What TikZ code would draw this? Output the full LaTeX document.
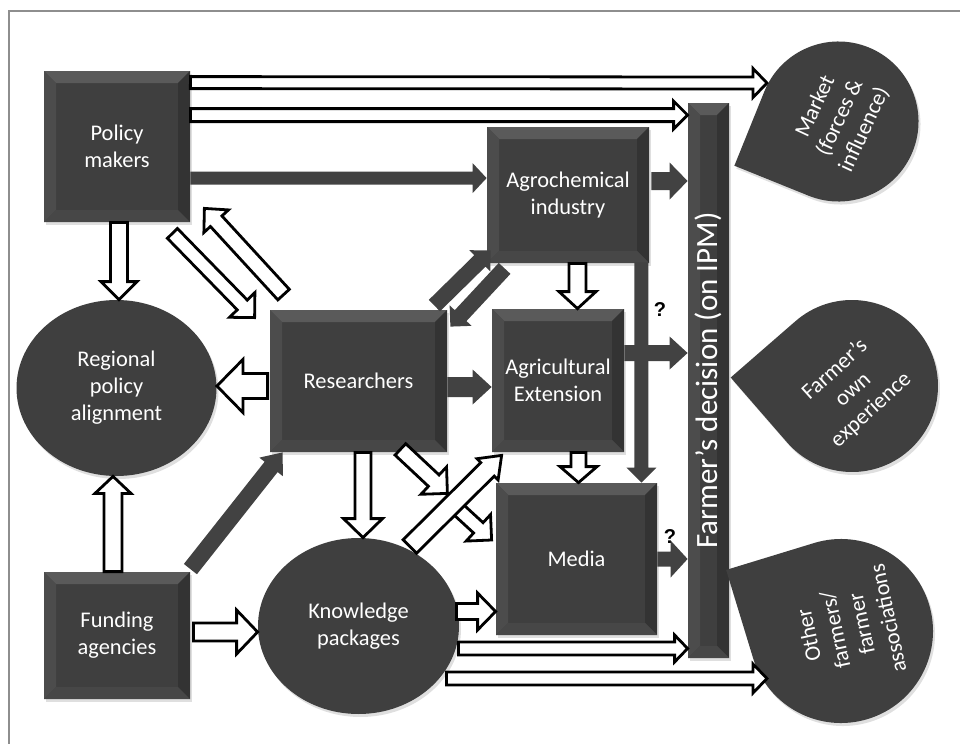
\documentclass[tikz,border=0pt]{standalone}
\usepackage{fontspec}
\setmainfont{Carlito}
\newfontfamily\qfont{Liberation Sans}
\usepackage{tikz}
\usetikzlibrary{calc, positioning, shapes.geometric, shadows}

\definecolor{face}{HTML}{3F3F3F}
\definecolor{bevtop}{HTML}{5A5A5A}
\definecolor{bevleft}{HTML}{4C4C4C}
\definecolor{bevright}{HTML}{333333}
\definecolor{bevbot}{HTML}{474747}
\definecolor{arrowgray}{HTML}{424242}
\definecolor{framegray}{HTML}{8E8E8E}

\newcommand\boxfont{\fontsize{11.2}{13.5}\selectfont}
\newcommand\dropfont{\fontsize{11.2}{13.5}\selectfont}
\newcommand\decfont{\fontsize{15.5}{18}\selectfont}

% bevelled face of the dark boxes
\newcommand\boxbevel[1]{%
  \coordinate (bb-nw) at (path picture bounding box.north west);
  \coordinate (bb-ne) at (path picture bounding box.north east);
  \coordinate (bb-sw) at (path picture bounding box.south west);
  \coordinate (bb-se) at (path picture bounding box.south east);
  \fill[bevtop] (bb-nw) -- (bb-ne) -- ([shift={(-#1,-#1)}]bb-ne) -- ([shift={(#1,-#1)}]bb-nw) -- cycle;
  \fill[bevleft] (bb-nw) -- (bb-sw) -- ([shift={(#1,#1)}]bb-sw) -- ([shift={(#1,-#1)}]bb-nw) -- cycle;
  \fill[bevright] (bb-ne) -- (bb-se) -- ([shift={(-#1,#1)}]bb-se) -- ([shift={(-#1,-#1)}]bb-ne) -- cycle;
  \fill[bevbot] (bb-sw) -- (bb-se) -- ([shift={(-#1,#1)}]bb-se) -- ([shift={(#1,#1)}]bb-sw) -- cycle;
}

\tikzset{
  ba shaft/.store in=\bashaft, ba shaft=4pt,
  ba head/.code={\def\bahead{#1}\def\balen{#1}}, ba head=9pt,
  ba len/.store in=\balen,
  ba path/.style={fill=white, draw=black},
  hollow/.style={ba path/.style={fill=white, draw=black, line width=1.4pt, line join=miter}},
  dark/.style={ba path/.style={fill=arrowgray}},
  soft shadow/.style={drop shadow={opacity=0.25, shadow xshift=1pt, shadow yshift=-1.5pt}},
}

% block arrow: [style]{from}{to}
\newcommand\blockarrow[3][]{%
  \begin{scope}[#1]
    \coordinate (ba-s) at (#2);
    \coordinate (ba-e) at (#3);
    \coordinate (ba-m) at ($(ba-e)!\balen!(ba-s)$);
    \path[ba path] ($(ba-s)!\bashaft!90:(ba-e)$) -- ($(ba-m)!\bashaft!90:(ba-e)$)
      -- ($(ba-m)!\bahead!90:(ba-e)$) -- (ba-e)
      -- ($(ba-m)!\bahead!-90:(ba-e)$) -- ($(ba-m)!\bashaft!-90:(ba-e)$)
      -- ($(ba-s)!\bashaft!-90:(ba-e)$) -- cycle;
  \end{scope}}

% teardrop: {centre}{radius}{tip angle}
\newcommand\teardrop[3]{%
  \fill[face, soft shadow] ($(#1)+({#3+45}:#2)$) arc[start angle={#3+45}, end angle={#3+315}, radius=#2]
    -- ($(#1)+(#3:{1.414*#2})$) -- cycle;}

\begin{document}
\begin{tikzpicture}[x=0.5pt, y=-0.5pt,
  box/.style={rectangle, fill=face, text=white, font=\boxfont, align=center,
    inner sep=0pt, soft shadow, path picture={\boxbevel{6pt}}},
  blob/.style={ellipse, fill=face, text=white, font=\boxfont, align=center, inner sep=0pt, soft shadow},
  droptext/.style={text=white, font=\dropfont, align=center, inner sep=0pt},
  qmark/.style={font=\qfont\bfseries\fontsize{10}{12}\selectfont, inner sep=0pt}]

  \useasboundingbox (0,0) rectangle (960,744);
  \draw[framegray, line width=0.8pt] (960,11) -- (9,11) -- (9,744);

  \node[box, minimum width=73pt, minimum height=75.5pt] (pm) at (117,146.5) {Policy\\makers};
  \node[blob, minimum width=100pt, minimum height=88pt] (rpa) at (116.5,388) {Regional\\policy\\alignment};
  \node[box, minimum width=88.5pt, minimum height=71pt] (res) at (358.5,381) {Researchers};
  \node[box, minimum width=73pt, minimum height=63.5pt] (fund) at (117,635.5) {Funding\\agencies};
  \node[blob, minimum width=100.5pt, minimum height=88pt] (kp) at (358.5,626) {Knowledge\\packages};
  \node[box, minimum width=81pt, minimum height=68pt] (agro) at (568,195) {Agrochemical\\industry};
  \node[box, minimum width=66pt, minimum height=71.5pt] (ext) at (558,380.5) {Agricultural\\Extension};
  \node[box, minimum width=80.5pt, minimum height=76pt] (media) at (576.5,559) {Media};

  \node[box, minimum width=20.5pt, minimum height=277.5pt] (dec) at (708.5,380.5) {};
  \node[rotate=90, text=white, font=\decfont, inner sep=0pt] (dectext) at (dec.center) {Farmer’s decision (on IPM)};

  \coordinate (mkt-c) at (838.5,121.5);
  \coordinate (own-c) at (852,386);
  \coordinate (oth-c) at (841,631);
  \teardrop{mkt-c}{80}{157}
  \teardrop{own-c}{86}{184}
  \teardrop{oth-c}{92}{208}
  \node[droptext, rotate=65] (mkt) at (840,118) {Market\\(forces \&\\influence)};
  \node[droptext, rotate=42] (own) at (853,390) {Farmer’s\\own\\experience};
  \node[droptext, rotate=102] (oth) at (848,627) {Other\\farmers/\\farmer\\associations};

  \coordinate (mkt-in) at (767,83);
  \coordinate (oth-in) at (767,678.5);

  \blockarrow[hollow, ba shaft=3pt, ba head=7.25pt, ba len=7pt]{$(pm.north east)+(0,12)$}{mkt-in}
  \blockarrow[hollow, ba shaft=3.25pt, ba head=7pt]{$(pm.north east)+(0,44.5)$}{dec.west |- ba-s}
  \blockarrow[dark, ba shaft=3.25pt, ba head=7.5pt, ba len=7pt]{$(pm.north east)+(0,107.5)$}{agro.west |- ba-s}
  \blockarrow[dark, ba shaft=4.5pt, ba head=9.25pt, ba len=9pt]{$(agro.east)+(2,-14)$}{dec.west |- ba-s}
  \blockarrow[hollow, ba shaft=4.25pt, ba head=9pt]{$(pm.south)+(2,0)$}{rpa.north -| ba-s}
  \blockarrow[hollow, ba shaft=3.5pt, ba head=8.85pt]{$(pm.south east)+(-18,11)$}{$(res.north west)+(-15,8)$}
  \blockarrow[hollow, ba shaft=3.9pt, ba head=8.35pt, ba len=8.7pt]{$(res.north west)+(14,-15)$}{$(pm.south east)+(14,-14)$}
  \blockarrow[dark, ba shaft=4pt, ba head=7.5pt]{$(res.north east)+(-13,-4)$}{$(agro.south west)+(4,-13)$}
  \blockarrow[dark, ba shaft=4pt, ba head=7.5pt]{$(agro.south west)+(18,5)$}{$(res.north east)+(3,17)$}
  \blockarrow[dark, ba shaft=5pt, ba head=8.75pt, ba len=9.5pt]{$(res.east)+(0,6)$}{ext.west |- ba-s}
  \blockarrow[hollow, ba shaft=6.25pt, ba head=13.25pt, ba len=13pt]{$(res.west)+(-2,5)$}{rpa.east |- ba-s}
  \blockarrow[hollow, ba shaft=4.25pt, ba head=9.25pt, ba len=8.5pt]{$(agro.south)+(9.5,0)$}{ext.north -| ba-s}
  \blockarrow[dark, ba shaft=4pt, ba head=8.25pt, ba len=9pt]{$(ext.east)+(0,-27.5)$}{dec.west |- ba-s}
  \blockarrow[dark, ba shaft=3.5pt, ba head=7.5pt]{$(agro.south east)+(-8,-1)$}{media.north -| ba-s}
  \blockarrow[hollow, ba shaft=3.75pt, ba head=9.25pt, ba len=8pt]{$(ext.south)+(20.5,0)$}{media.north -| ba-s}
  \blockarrow[dark, ba shaft=3.75pt, ba head=9.25pt, ba len=8.5pt]{media.east}{dec.west |- ba-s}
  \blockarrow[hollow, ba shaft=4pt, ba head=9.75pt, ba len=9.5pt]{$(res.south)+(4.5,0)$}{kp.north -| ba-s}
  \blockarrow[hollow, ba shaft=3.9pt, ba head=9.35pt]{$(res.south east)+(-47,-3)$}{$(res.south east)+(0,41)$}
  \blockarrow[hollow, ba shaft=3.5pt, ba head=9pt]{$(media.west)+(-41,-53)$}{$(media.west)+(-4,-19)$}
  \blockarrow[hollow, ba shaft=4.75pt, ba head=7.5pt, ba len=9.9pt]{$(kp.north east)+(-20,-17)$}{$(ext.south west)+(10,3)$}
  \blockarrow[hollow, ba shaft=4pt, ba head=9.25pt, ba len=9pt]{$(kp.east)+(-3,-14.5)$}{media.west |- ba-s}
  \blockarrow[hollow, ba shaft=3.25pt, ba head=6.75pt, ba len=6.5pt]{$(kp.east)+(-1,22.5)$}{dec.west |- ba-s}
  \blockarrow[hollow, ba shaft=3.25pt, ba head=7.25pt, ba len=7pt]{$(kp.east)+(-13,52.5)$}{oth-in}
  \blockarrow[hollow, ba shaft=4.5pt, ba head=9pt, ba len=8.5pt]{$(fund.north)+(-4,0)$}{rpa.south -| ba-s}
  \blockarrow[dark, ba shaft=4.15pt, ba head=7.5pt, ba len=9.25pt]{$(fund.north east)+(0,-2.5)$}{$(res.south west)+(13,0)$}
  \blockarrow[hollow, ba shaft=4.5pt, ba head=11pt, ba len=10.5pt]{$(fund.east)+(3,-3.5)$}{kp.west |- ba-s}

  \node[qmark] (q1) at (660,310) {?};
  \node[qmark] (q2) at (670,537) {?};

\end{tikzpicture}
\end{document}
